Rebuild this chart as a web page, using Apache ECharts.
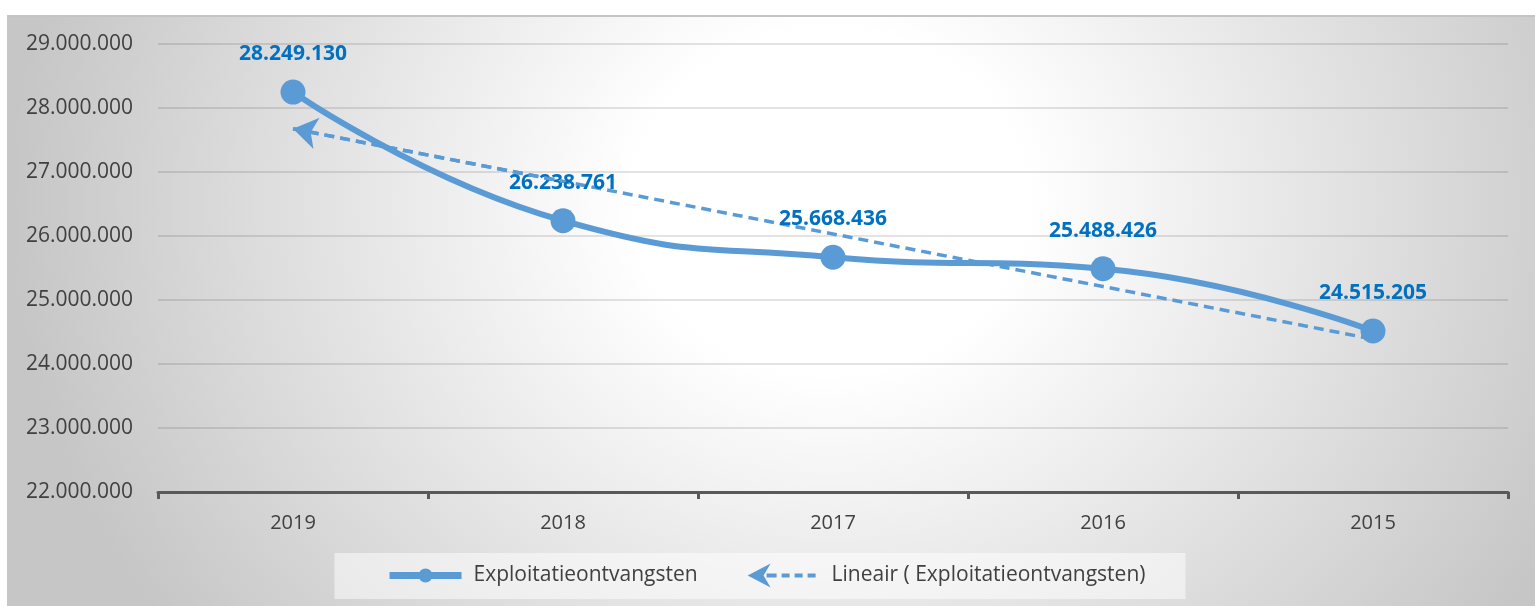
<!DOCTYPE html>
<html>
<head>
<meta charset="utf-8">
<script src="https://cdn.jsdelivr.net/npm/echarts@6/dist/echarts.min.js"></script>
<style>
  html, body { margin: 0; padding: 0; background: #fff; }
  #bg {
    position: absolute; left: 7px; top: 15px; width: 1528px; height: 591px;
    border-top: 2px solid #c4c4c4; box-sizing: border-box;
    background: radial-gradient(ellipse 820px 720px at 823px 185px, #ffffff 0%, #ffffff 24%, #c6c6c6 100%);
  }
  #main { position: absolute; left: 0; top: 0; width: 1535px; height: 606px; }
</style>
</head>
<body>
<div id="bg"></div>
<div id="main"></div>
<script>
// jaren en bedragen
var years = ["2019", "2018", "2017", "2016", "2015"];
var ontvangsten = [28249130, 26238761, 25668436, 25488426, 24515205];
// lineaire trendlijn
var trend = [27675600, 26853800, 26032000, 25210200, 24388400];
var yTicks = [22000000, 23000000, 24000000, 25000000, 26000000, 27000000, 28000000, 29000000];

var blauw = "#5B9BD5";
var font = "Open Sans";

function punten(v) {
  return String(v).replace(/\B(?=(\d{3})+(?!\d))/g, ".");
}

(function () {
  var myChart = echarts.init(document.getElementById("main"));

  var option = {
    animation: false,
    textStyle: { fontFamily: font },
    grid: {
      left: 158,
      right: 27,
      top: 44,
      bottom: 114
    },
    legend: {
      left: "center",
      top: 553,
      padding: [10, 40, 11, 55],
      backgroundColor: "rgba(255,255,255,0.5)",
      itemWidth: 72,
      itemHeight: 25,
      itemGap: 50,
      textStyle: {
        color: "#404040",
        fontSize: 21,
        fontFamily: font,
        padding: [0, 0, 0, 7]
      },
      data: [
        {
          name: "Exploitatieontvangsten",
          icon: "path://M0,0 L0.1,0 L0,0.1 Z M72,25 L71.9,25 L72,24.9 Z M0,9 L72,9 L72,16 L0,16 Z M29,12.5 A7,7 0 1 1 43,12.5 A7,7 0 1 1 29,12.5 Z"
        },
        {
          name: "Lineair ( Exploitatieontvangsten)",
          icon: "path://M0,0 L0.1,0 L0,0.1 Z M72,25 L71.9,25 L72,24.9 Z M0,12.5 L23,0.5 L16,12.5 L23,24.5 Z M19,10.5 L29,10.5 L29,14.5 L19,14.5 Z M34,10.5 L42,10.5 L42,14.5 L34,14.5 Z M47,10.5 L55,10.5 L55,14.5 L47,14.5 Z M60,10.5 L68,10.5 L68,14.5 L60,14.5 Z"
        }
      ]
    },
    xAxis: {
      type: "category",
      data: years,
      boundaryGap: true,
      axisLine: {
        lineStyle: { color: "#595959", width: 3 }
      },
      axisTick: {
        show: true,
        interval: 0,
        alignWithLabel: false,
        length: 7,
        lineStyle: { color: "#595959", width: 3 }
      },
      axisLabel: {
        color: "#404040",
        fontSize: 20,
        margin: 21
      }
    },
    yAxis: {
      type: "value",
      min: yTicks[0],
      max: yTicks[yTicks.length - 1],
      interval: 1000000,
      axisLine: { show: false },
      axisTick: { show: false },
      axisLabel: {
        color: "#404040",
        fontSize: 21,
        margin: 25,
        formatter: punten
      },
      splitLine: {
        lineStyle: { color: "rgba(0,0,0,0.14)", width: 1.5 }
      }
    },
    series: [
      {
        name: "Lineair ( Exploitatieontvangsten)",
        type: "line",
        data: trend,
        color: blauw,
        symbol: "none",
        silent: true,
        lineStyle: {
          color: blauw,
          width: 3.5,
          type: [10, 6]
        },
        markLine: {
          silent: true,
          symbol: ["arrow", "none"],
          symbolSize: [24, 24],
          label: { show: false },
          lineStyle: {
            color: blauw,
            width: 3.5,
            type: [10, 6]
          },
          data: [
            [
              { coord: [years[0], trend[0]] },
              { coord: [years[1], trend[1]] }
            ]
          ]
        }
      },
      {
        name: "Exploitatieontvangsten",
        type: "line",
        data: ontvangsten,
        color: blauw,
        smooth: 0.5,
        symbol: "circle",
        symbolSize: 25,
        lineStyle: {
          color: blauw,
          width: 6
        },
        itemStyle: {
          color: blauw
        },
        label: {
          show: true,
          position: "top",
          distance: 15,
          color: "#0070C0",
          fontWeight: "bold",
          fontSize: 21,
          fontFamily: font,
          formatter: function (p) {
            return punten(p.value);
          }
        }
      }
    ]
  };

  myChart.setOption(option);

  window.addEventListener("resize", function () {
    myChart.resize();
  });
})();
</script>
</body>
</html>
